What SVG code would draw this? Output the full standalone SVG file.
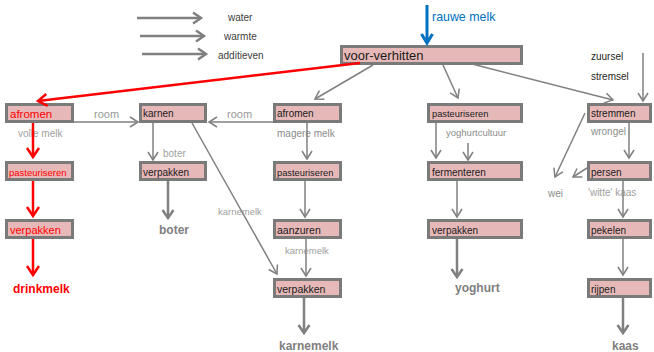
<svg xmlns="http://www.w3.org/2000/svg" width="654" height="352" viewBox="0 0 654 352">
<style>
text{font-family:"Liberation Sans",Arial,sans-serif}
.box{fill:#e6b9b8;stroke:#7a7a7a;stroke-width:3}
.nt{font-size:10px;fill:#1a1a1a}
.rt{fill:#ff0000}
.lbl{font-size:10px;fill:#8c8c8c}
.lbl2{font-size:11px;fill:#999999}
.leg{font-size:10px;fill:#404040}
.out{font-size:12px;font-weight:bold;fill:#7f7f7f}
.g{stroke:#808080;stroke-width:1.5;fill:none;marker-end:url(#ag)}
.gt{stroke:#808080;stroke-width:2.5;fill:none;marker-end:url(#agt)}
.r{stroke:#ff0000;stroke-width:2.5;fill:none;marker-end:url(#ar)}
</style>
<defs>
<marker id="ag" markerUnits="userSpaceOnUse" viewBox="-10 -7 12 14" markerWidth="12" markerHeight="14" refX="0" refY="0" orient="auto" overflow="visible"><path d="M-8,-5 L0,0 L-8,5" fill="none" stroke="#808080" stroke-width="1.5"/></marker>
<marker id="agt" markerUnits="userSpaceOnUse" viewBox="-10 -7 12 14" markerWidth="12" markerHeight="14" refX="0" refY="0" orient="auto" overflow="visible"><path d="M-8,-5.5 L0,0 L-8,5.5" fill="none" stroke="#808080" stroke-width="2.5"/></marker>
<marker id="ar" markerUnits="userSpaceOnUse" viewBox="-10 -7 12 14" markerWidth="12" markerHeight="14" refX="0" refY="0" orient="auto" overflow="visible"><path d="M-9,-6 L0,0 L-9,6" fill="none" stroke="#ff0000" stroke-width="2.5"/></marker>
<marker id="ab" markerUnits="userSpaceOnUse" viewBox="-10 -7 12 14" markerWidth="12" markerHeight="14" refX="0" refY="0" orient="auto" overflow="visible"><path d="M-9,-5.5 L0,0 L-9,5.5" fill="none" stroke="#0070c0" stroke-width="3"/></marker>
</defs>

<g id="legend">
<text class="leg" x="228" y="21">water</text>
<text class="leg" x="224" y="40">warmte</text>
<text class="leg" x="218" y="59">additieven</text>
</g>

<g id="n-voor"><rect class="box" x="341.5" y="46.5" width="180" height="17"/><text x="344" y="60" style="font-size:13px;fill:#1a1a1a">voor-verhitten</text></g>
<text x="432" y="21" style="font-size:12.4px;fill:#0070c0">rauwe melk</text>
<text class="leg" x="591" y="60" style="fill:#262626">zuursel</text>
<text class="leg" x="591" y="80" style="fill:#262626">stremsel</text>

<g id="n-afromen1"><rect class="box" x="6.5" y="104.5" width="66" height="17"/><text class="rt" x="10" y="118" style="font-size:11.5px">afromen</text></g>
<g id="n-karnen"><rect class="box" x="140.5" y="104.5" width="65" height="17"/><text class="nt" x="143" y="117">karnen</text></g>
<g id="n-afromen2"><rect class="box" x="274.5" y="104.5" width="66" height="17"/><text class="nt" x="277" y="117">afromen</text></g>
<g id="n-past4"><rect class="box" x="428.5" y="104.5" width="93" height="17"/><text class="nt" x="432" y="117" style="font-size:9.3px">pasteuriseren</text></g>
<g id="n-stremmen"><rect class="box" x="588.5" y="104.5" width="62" height="17"/><text class="nt" x="591" y="117">stremmen</text></g>

<g id="n-past1"><rect class="box" x="6.5" y="162.5" width="66" height="17"/><text class="rt" x="9" y="175.5" style="font-size:9.5px">pasteuriseren</text></g>
<g id="n-verpakken2"><rect class="box" x="140.5" y="162.5" width="65" height="17"/><text class="nt" x="143" y="175.5">verpakken</text></g>
<g id="n-past3"><rect class="box" x="274.5" y="162.5" width="66" height="17"/><text class="nt" x="277" y="175.5" style="font-size:9.3px">pasteuriseren</text></g>
<g id="n-ferm"><rect class="box" x="428.5" y="162.5" width="93" height="17"/><text class="nt" x="432" y="175.5">fermenteren</text></g>
<g id="n-persen"><rect class="box" x="588.5" y="162.5" width="62" height="17"/><text class="nt" x="591" y="175.5">persen</text></g>

<g id="n-verpakken1"><rect class="box" x="6.5" y="220.5" width="66" height="17"/><text class="rt" x="10" y="234" style="font-size:11px">verpakken</text></g>
<g id="n-aanzuren"><rect class="box" x="274.5" y="220.5" width="66" height="17"/><text class="nt" x="277" y="234" style="font-size:10.5px">aanzuren</text></g>
<g id="n-verpakken4"><rect class="box" x="428.5" y="220.5" width="93" height="17"/><text class="nt" x="432" y="234">verpakken</text></g>
<g id="n-pekelen"><rect class="box" x="588.5" y="220.5" width="62" height="17"/><text class="nt" x="591" y="234">pekelen</text></g>

<g id="n-verpakken3"><rect class="box" x="274.5" y="279.5" width="66" height="17"/><text class="nt" x="277" y="293" style="font-size:10.5px">verpakken</text></g>
<g id="n-rijpen"><rect class="box" x="588.5" y="279.5" width="62" height="17"/><text class="nt" x="591" y="293">rijpen</text></g>

<g id="labels">
<text class="lbl2" x="94" y="118">room</text>
<text class="lbl2" x="227" y="118">room</text>
<text class="lbl" x="18" y="137" style="fill:#a0a0a0">volle melk</text>
<text class="lbl" x="163" y="157" style="fill:#a0a0a0">boter</text>
<text class="lbl" x="277" y="137">magere melk</text>
<text class="lbl" x="446" y="136" style="font-size:9.5px">yoghurtcultuur</text>
<text class="lbl" x="591" y="135">wrongel</text>
<text class="lbl" x="218" y="215" style="font-size:9.5px;fill:#a0a0a0">karnemelk</text>
<text class="lbl" x="285" y="254" style="font-size:9.5px;fill:#a0a0a0">karnemelk</text>
<text class="lbl" x="548" y="197">wei</text>
<text class="lbl" x="588" y="196" style="fill:#a0a0a0">'witte' kaas</text>
<text class="out" x="13" y="293" style="fill:#ff0000">drinkmelk</text>
<text class="out" x="159" y="234">boter</text>
<text class="out" x="279" y="350">karnemelk</text>
<text class="out" x="455" y="292">yoghurt</text>
<text class="out" x="612" y="350">kaas</text>
</g>

<g id="connectors">
<line class="gt" x1="137" y1="18" x2="201" y2="18"/>
<line class="gt" x1="140" y1="36" x2="204" y2="36"/>
<line class="gt" x1="142" y1="54" x2="206" y2="54"/>
<line x1="427" y1="5" x2="427" y2="43" stroke="#0070c0" stroke-width="3" marker-end="url(#ab)"/>
<line class="r" x1="360" y1="63" x2="38" y2="101"/>
<line class="r" x1="33" y1="123" x2="33" y2="157"/>
<line class="r" x1="33" y1="181" x2="33" y2="216"/>
<line class="r" x1="33" y1="239" x2="33" y2="275"/>
<line class="g" x1="373" y1="65" x2="315" y2="99"/>
<line class="g" x1="443" y1="65" x2="458" y2="98"/>
<line class="g" x1="472" y1="64" x2="613" y2="100"/>
<line class="g" x1="643" y1="53" x2="643" y2="101"/>
<line class="g" x1="74" y1="122" x2="138" y2="122"/>
<line class="g" x1="273" y1="122" x2="209" y2="122"/>
<line class="g" x1="153" y1="123" x2="153" y2="160"/>
<line class="gt" x1="168" y1="181" x2="168" y2="218"/>
<line class="g" x1="192" y1="123" x2="277" y2="274"/>
<line class="g" x1="307" y1="123" x2="307" y2="159"/>
<line class="g" x1="305" y1="181" x2="305" y2="217"/>
<line class="g" x1="306" y1="239" x2="306" y2="276"/>
<line class="gt" x1="304" y1="298" x2="304" y2="333"/>
<line class="g" x1="436" y1="123" x2="436" y2="158"/>
<line class="g" x1="468" y1="143" x2="468" y2="160"/>
<line class="g" x1="457" y1="181" x2="457" y2="217"/>
<line class="gt" x1="457" y1="239" x2="457" y2="277"/>
<line class="g" x1="629" y1="123" x2="629" y2="158"/>
<line class="g" x1="585" y1="113" x2="555" y2="177"/>
<line class="g" x1="587" y1="168" x2="573" y2="177"/>
<line class="g" x1="623" y1="181" x2="623" y2="217"/>
<line class="g" x1="623" y1="239" x2="623" y2="275"/>
<line class="gt" x1="623" y1="298" x2="623" y2="333"/>
</g>
</svg>
